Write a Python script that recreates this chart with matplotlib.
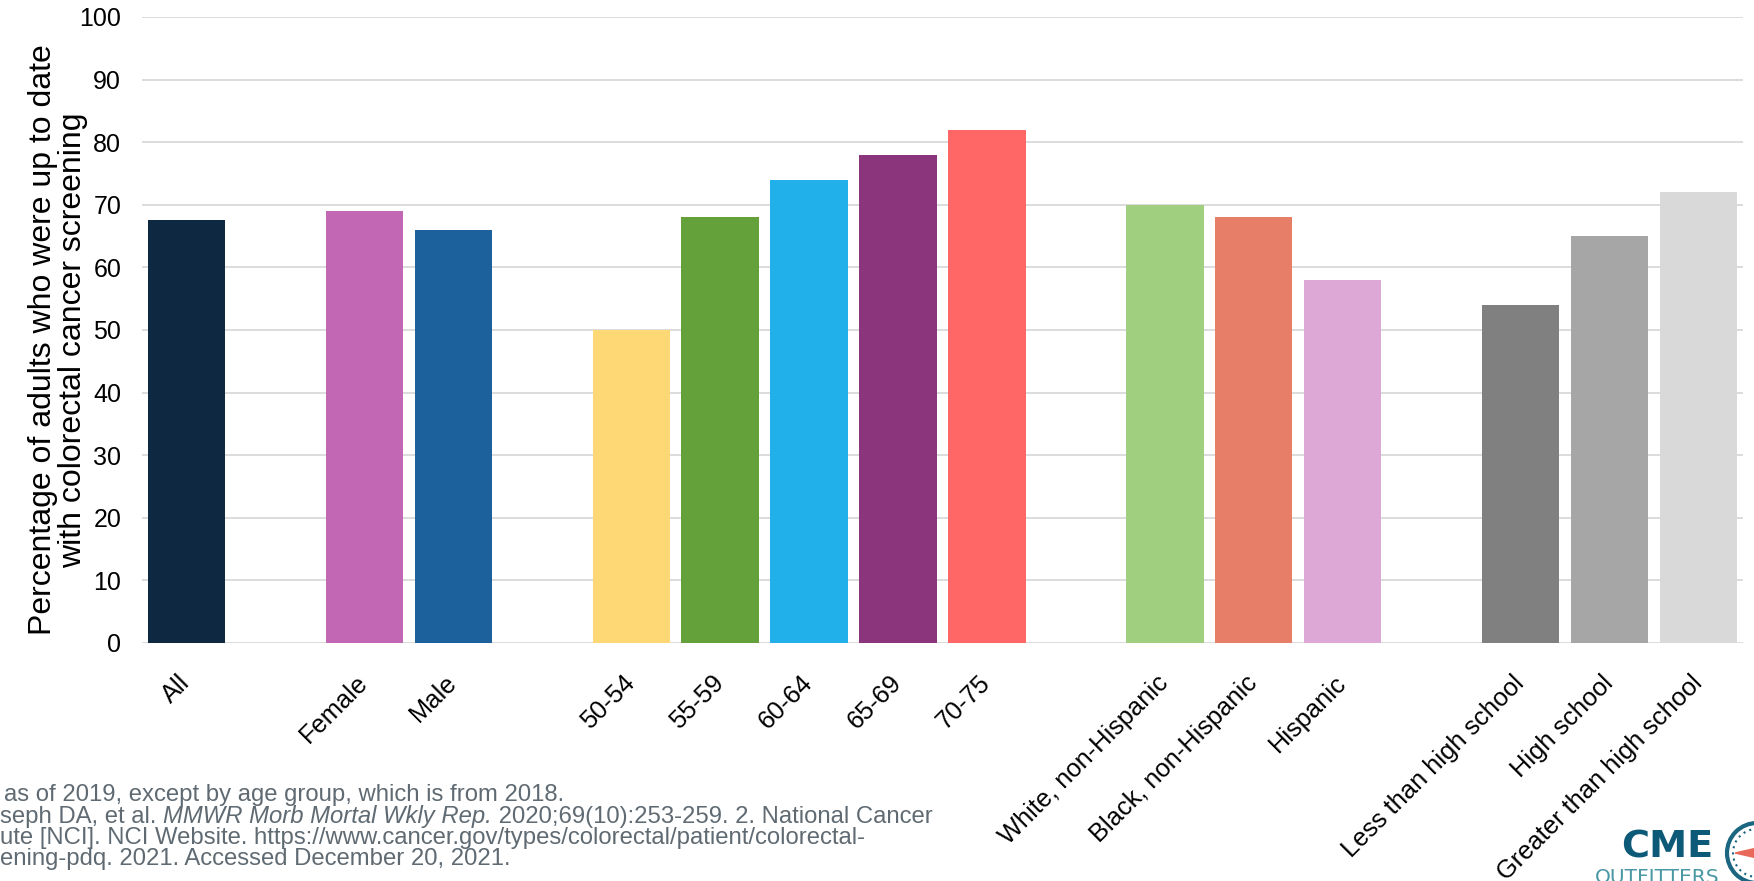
import matplotlib
matplotlib.use("Agg")
import matplotlib.pyplot as plt
from matplotlib.patches import Circle, Polygon
import numpy as np

plt.rcParams['font.family'] = ['Liberation Sans', 'DejaVu Sans']

# data (empty strings are the gaps between groups)
labels = ["All", "", "Female", "Male", "", "50-54", "55-59", "60-64", "65-69", "70-75", "",
          "White, non-Hispanic", "Black, non-Hispanic", "Hispanic", "",
          "Less than high school", "High school", "Greater than high school"]
values = [67.5, None, 69, 66, None, 50, 68, 74, 78, 82, None,
          70, 68, 58, None, 54, 65, 72]
colors = ["#0e2841", None, "#c167b4", "#1c619c", None, "#fdd874", "#65a13b", "#22b0ea",
          "#8b357d", "#ff6666", None, "#a0d07f", "#e67e68", "#dda7d6", None,
          "#808080", "#a6a6a6", "#d9d9d9"]

W, H = 1754, 881
fig = plt.figure(figsize=(W / 100, H / 100), dpi=100)
ax = fig.add_axes([142 / W, 1 - 643 / H, (1743 - 142) / W, (643 - 17) / H])

x = np.arange(len(labels))
for xi, v, c in zip(x, values, colors):
    if v is not None:
        ax.bar(xi, v, width=0.87, color=c, zorder=3)

ax.set_xlim(-0.5, len(labels) - 0.5)
ax.set_ylim(0, 100)
ax.set_yticks(np.arange(0, 101, 10))
ax.grid(axis='y', color='#d9d9d9', linewidth=1.3, zorder=0)
for s in ax.spines.values():
    s.set_visible(False)

ax.set_xticks(x)
ax.set_xticklabels(labels, rotation=45, ha='right', va='center', rotation_mode='anchor')
ax.tick_params(axis='x', length=0, pad=26, labelsize=18.3)
ax.tick_params(axis='y', length=0, pad=15, labelsize=18)

fig.text(58 / W, 1 - 340 / H,
         "Percentage of adults who were up to date\nwith colorectal cancer screening",
         rotation=90, ha='center', va='center', multialignment='center',
         fontsize=23, linespacing=1.0)

# footnote (cut off on the left in the original)
grey = '#5f6a72'
fs = 17.2
fig.text(4 / W, 1 - 801 / H, "as of 2019, except by age group, which is from 2018.",
         fontsize=fs, color=grey, va='baseline')
renderer = fig.canvas.get_renderer()
xpos = 0
for txt, style in [("seph DA, et al. ", 'normal'),
                   ("MMWR Morb Mortal Wkly Rep.", 'italic'),
                   (" 2020;69(10):253-259. 2. National Cancer", 'normal')]:
    t = fig.text(xpos / W, 1 - 822.5 / H, txt, fontsize=fs, color=grey,
                 va='baseline', style=style)
    xpos += t.get_window_extent(renderer).width
fig.text(0, 1 - 844 / H,
         "ute [NCI]. NCI Website. https://www.cancer.gov/types/colorectal/patient/colorectal-",
         fontsize=fs, color=grey, va='baseline')
fig.text(0, 1 - 865.5 / H, "ening-pdq. 2021. Accessed December 20, 2021.",
         fontsize=fs, color=grey, va='baseline')

# logo
fig.text(1621 / W, 1 - 858 / H, "CME", fontsize=27.5, fontweight='bold',
         family='DejaVu Sans', color='#0d5a78', va='baseline')
fig.text(1595 / W, 1 - 883 / H, "OUTFITTERS", fontsize=14.5,
         family='DejaVu Sans', color='#4a98a4', va='baseline')
cx, cy, r = 1757, H - 853, 30
fig.patches.append(Circle((cx, cy), r, transform=None, fill=False,
                          edgecolor='#1b6680', linewidth=3))
fig.patches.append(Circle((cx, cy), r - 6, transform=None, fill=False,
                          edgecolor='#1b6680', linewidth=1.5, linestyle=(0, (1, 2))))
fig.patches.append(Polygon([(1735, cy), (cx, cy + 5), (cx, cy - 5)], closed=True,
                           transform=None, color='#e8685a'))

fig.savefig("out.png", dpi=100)
